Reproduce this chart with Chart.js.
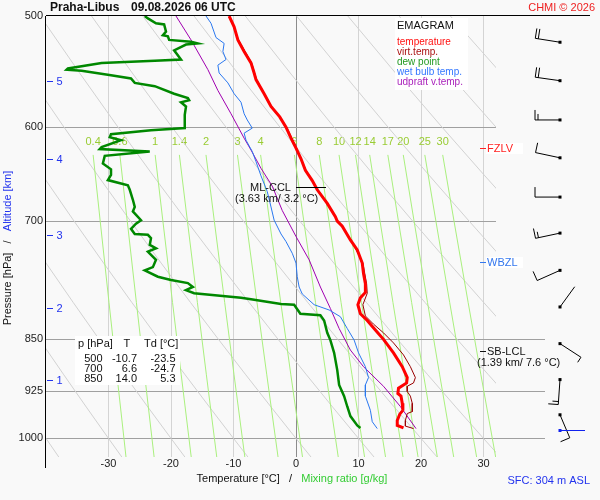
<!DOCTYPE html>
<html>
<head>
<meta charset="utf-8">
<title>Emagram Praha-Libus</title>
<script src="https://cdn.jsdelivr.net/npm/chart.js@4.4.1/dist/chart.umd.min.js"></script>
<style>
  html, body { margin: 0; padding: 0; background: #f9f9f9; }
  #wrap { width: 600px; height: 500px; }
</style>
</head>
<body>
<div id="wrap"><canvas id="emagram" width="600" height="500"></canvas></div>
<script>
// sounding values (p in hPa, T in °C)
const tempP = [500,509,520,530,540,549,555,568,580,590,600,611,621,632,644,655,665,680,695,700,706,722,734,750,763,776,787,794,803,815,824,837,850,869,889,905,913,921,929,933,944,955,961,971,979,983];
const tempT = [-10.7,-9.9,-9.3,-8.3,-7.2,-6.7,-6.4,-5.1,-4.0,-2.6,-1.6,-0.8,0.0,0.8,1.5,2.6,3.4,5.0,6.3,6.6,7.4,8.7,9.8,10.6,10.8,11.1,11.1,10.3,9.9,10.3,11.4,12.7,14.0,15.6,17.0,17.8,17.7,16.4,16.3,16.8,17.0,17.1,16.6,16.2,16.2,17.2];

const virtP = [500,520,540,555,580,600,621,644,665,680,700,722,750,776,788,803,818,829,841,855,872,889,905,913,918,926,933,944,957,960,971,980,984];
const virtT = [-10.6,-9.2,-7.1,-6.3,-3.9,-1.5,0.1,1.6,3.5,5.1,6.7,8.8,10.7,11.3,11.4,10.7,11.1,12.4,14.0,15.6,17.2,18.3,19.1,18.8,17.8,17.8,18.3,18.6,18.6,17.8,17.5,17.5,18.8];

const dewP = [500,502,506,507,513,516,517,520,521.5,523,524,529,537,538,540,545,546,547,551,554,558,561,568,572,574,576,580,588,601,603,607,610,613,620,622,624.5,629,637,643,649,654.5,660,665,676,684,689,699,703,709,715,716,720,728,732,736,746,755,759,767,771,775,780,784,788,794,796,802,803,815,817,824,841,851,869,894,916,933,949,964,979,983];
const dewT = [-24.2,-23.7,-22.4,-21.1,-20.8,-21.3,-20.5,-20.3,-16.8,-15.7,-17.6,-19.5,-18.4,-22.6,-31.1,-36.5,-36.7,-34.3,-29.6,-26.4,-25.8,-22.6,-19.5,-17.3,-17.1,-18.4,-17.6,-17.8,-17.8,-23.2,-29.6,-29.8,-28.0,-31.1,-31.4,-23.4,-30.6,-30.9,-29.6,-29.6,-30.1,-26.9,-26.6,-26.1,-25.8,-26.1,-24.8,-25.6,-26.4,-25.8,-23.7,-23.2,-23.4,-22.4,-23.7,-22.4,-22.9,-24.2,-22.1,-20.0,-17.3,-16.5,-17.6,-16.3,-8.8,-7.2,-2.4,-0.3,0.7,3.9,4.5,5.0,5.5,6.1,6.6,6.9,7.7,8.2,8.7,9.8,10.3];

const wetP = [500,506,518,523,530,537,542,549,558,568,576,587,593,601,606,613,624.5,635,650,667,684,699,715,724,738,750,767,780,789,803,810,819,835,851,869,889,905,916,933,955,973,984];
const wetT = [-14.4,-13.6,-12.8,-11.5,-11.7,-11.2,-12.5,-12.3,-10.9,-9.9,-8.8,-8.3,-7.8,-7.0,-8.3,-8.0,-7.0,-6.4,-5.6,-4.6,-4.0,-3.5,-2.4,-1.6,-0.6,0.0,0.2,0.5,1.0,2.9,5.3,7.1,8.2,9.3,10.0,11.1,11.6,11.1,11.1,11.9,12.2,13.0];

const parcelP = [500,520,546,565,587,611,623,642,661,688,718,746,780,808,835,865,889,918,949,984];
const parcelT = [-19.2,-16.8,-14.1,-12.5,-10.4,-8.3,-7.2,-5.6,-3.8,-2.2,0.0,2.1,3.9,5.5,6.9,8.7,10.8,14.0,16.7,19.2];

// axes and background grid of the diagram
const tempTicks = [-30,-20,-10,0,10,20,30];
const pressTicks = [500,600,700,850,925,1000];
const thetaLines = [-40,-30,-20,-10,0,10,20,30,40,50,60,70,80,90,100];
const adiabatLevels = [500,550,600,650,700,750,800,850,900,950,1000,1031];
const mixRatios = [0.4,0.6,1,1.4,2,3,4,6,8,10,12,14,17,20,25,30];
const mixLevels = [628,700,800,900,1031];

// altitude marks and wind profile
const altKm = [1,2,3,4,5];
const altP = [909,807,716,632,556];
const windP = [522,556,593,631,673,714,759,806,856,908,962];
const windDir = [279,278,270,282,270,258,246,36,123,184,157];
const windKt = [20,20,15,10,10,15,10,2,5,15,10];
const sfcP = 986;

// text table in lower left
const tableP = ['500','700','850'];
const tableT = ['-10.7','6.6','14.0'];
const tableTd = ['-23.5','-24.7','5.3'];

// diagnosed levels
const fzlvP = 621, wbzlP = 749, sbLclP = 867, mlCclP = 662;

const FONT = '"Liberation Sans", Arial, sans-serif';
Chart.defaults.font.family = FONT;

// dry adiabat temperature for potential temperature theta (°C at 1000 hPa)
function adiabatT(theta, p) {
    return (theta + 273.15) * Math.pow(p / 1000, 0.286) - 273.15;
}
// temperature of saturation mixing ratio w (g/kg) at p
function mixT(w, p) {
    const e = w * p / (622 + w);
    const l = Math.log(e / 6.112);
    return 243.5 * l / (17.67 - l);
}

const pts = (ps, ts) => ps.map((p, i) => ({ x: ts[i], y: p }));

function line(label, data, color, width) {
    return { label, data, borderColor: color, borderWidth: width, pointRadius: 0, showLine: true, fill: false, tension: 0 };
}

const datasets = [
    line('temperature', pts(tempP, tempT), '#ff0000', 3),
    line('virt.temp.', pts(virtP, virtT), '#990000', 1),
    line('dew point', pts(dewP, dewT), '#008800', 2.5),
    line('wet bulb temp.', pts(wetP, wetT), '#2a78f0', 1),
    line('udpraft v.temp.', pts(parcelP, parcelT), '#a000b0', 1),
];
mixRatios.forEach(w => {
    datasets.push(line('w' + w, mixLevels.map(p => ({ x: mixT(w, p), y: p })), '#aaf07e', 1));
});
thetaLines.forEach(th => {
    datasets.push(line('th' + th, adiabatLevels.map(p => ({ x: adiabatT(th, p), y: p })), '#d2d2d2', 1));
});

// wind barb: staff points to where wind comes from
function drawBarb(c, x0, y0, dir, kt) {
    const r = dir * Math.PI / 180;
    const ux = Math.sin(r), uy = -Math.cos(r);
    const tx = x0 + ux * 25, ty = y0 + uy * 25;
    const bx = -uy, by = ux;
    c.beginPath();
    c.moveTo(x0, y0);
    c.lineTo(tx, ty);
    let rest = Math.round(kt / 5) * 5, pos = 0;
    while (rest >= 10) {
        const sx = tx - ux * pos, sy = ty - uy * pos;
        c.moveTo(sx, sy);
        c.lineTo(sx + bx * 10, sy + by * 10);
        rest -= 10; pos += 3;
    }
    if (rest >= 5) {
        const sx = tx - ux * pos, sy = ty - uy * pos;
        c.moveTo(sx, sy);
        c.lineTo(sx + bx * 6, sy + by * 6);
    }
    c.stroke();
    c.fillRect(x0 - 1.5, y0 - 1.5, 3, 3);
}

function multiText(c, parts, x, y) {
    let total = 0;
    parts.forEach(p => total += c.measureText(p[0]).width);
    let cx = x - total / 2;
    c.textAlign = 'left';
    parts.forEach(p => { c.fillStyle = p[1]; c.fillText(p[0], cx, y); cx += c.measureText(p[0]).width; });
}

const decor = {
    id: 'decor',
    beforeDraw(chart) {
        const c = chart.ctx;
        c.save();
        c.fillStyle = '#f9f9f9';
        c.fillRect(0, 0, chart.width, chart.height);
        c.restore();
    },
    beforeDatasetsDraw(chart) {
        const { ctx: c, chartArea: a, scales: { x, y } } = chart;
        c.save();
        c.strokeStyle = '#a0a0a0';
        c.lineWidth = 1;
        pressTicks.forEach(p => {
            if (p === 500) return;
            const py = Math.round(y.getPixelForValue(p)) + 0.5;
            c.beginPath();
            c.moveTo(a.left, py);
            c.lineTo(p >= 850 ? 545 : a.right, py);
            c.stroke();
        });
        // mixing ratio labels above the lines
        c.font = '11px ' + FONT;
        c.fillStyle = '#99cc33';
        c.textAlign = 'center';
        c.textBaseline = 'middle';
        const ly = y.getPixelForValue(615);
        mixRatios.forEach(w => c.fillText(String(w), x.getPixelForValue(mixT(w, mixLevels[0])), ly));
        c.restore();
    },
    afterDatasetsDraw(chart) {
        const { ctx: c, chartArea: a, scales: { x, y } } = chart;
        c.save();
        // frame
        c.strokeStyle = '#000';
        c.lineWidth = 1;
        c.beginPath();
        c.moveTo(a.left, a.top - 0.5); c.lineTo(590, a.top - 0.5);
        c.moveTo(a.left - 0.5, a.top); c.lineTo(a.left - 0.5, 468);
        c.stroke();

        // legend box
        c.fillStyle = '#ffffff';
        c.fillRect(395, 18, 73, 72);
        c.textAlign = 'left';
        c.textBaseline = 'middle';
        c.font = '11px ' + FONT;
        c.fillStyle = '#111';
        c.fillText('EMAGRAM', 397, 26);
        c.font = '10px ' + FONT;
        const leg = [['temperature', '#ff1010'], ['virt.temp.', '#aa1111'], ['dew point', '#229922'], ['wet bulb temp.', '#3377ff'], ['udpraft v.temp.', '#aa22bb']];
        leg.forEach((l, i) => { c.fillStyle = l[1]; c.fillText(l[0], 397, 42.3 + i * 9.9); });

        // table box
        c.fillStyle = '#ffffff';
        c.fillRect(75, 336, 105, 49);
        c.font = '11px ' + FONT;
        c.fillStyle = '#111';
        c.fillText('p [hPa]', 78, 343.5);
        c.fillText('T', 123.5, 343.5);
        c.fillText('Td [°C]', 144, 343.5);
        c.textAlign = 'right';
        tableP.forEach((p, i) => {
            const ry = 359 + i * 10;
            c.fillText(p, 102.5, ry);
            c.fillText(tableT[i], 137, ry);
            c.fillText(tableTd[i], 175.5, ry);
        });

        // level labels at the right edge
        const level = (p, txt, color, box) => {
            const py = Math.round(y.getPixelForValue(p)) + 0.5;
            if (box) { c.fillStyle = '#ffffff'; c.fillRect(486, py - 5.5, 37, 11); }
            c.strokeStyle = color;
            c.beginPath(); c.moveTo(480, py); c.lineTo(486, py); c.stroke();
            c.fillStyle = color;
            c.textAlign = 'left';
            c.fillText(txt, 487, py);
            return py;
        };
        c.font = '11px ' + FONT;
        level(fzlvP, 'FZLV', '#ff2222', true);
        level(wbzlP, 'WBZL', '#3377ee', true);
        const lcl = level(sbLclP, 'SB-LCL', '#111', false);
        c.fillText('(1.39 km/ 7.6 °C)', 477, lcl + 11.5);

        // ML-CCL marker
        const cy = Math.round(y.getPixelForValue(mlCclP)) + 0.5;
        c.strokeStyle = '#000';
        c.beginPath(); c.moveTo(x.getPixelForValue(0), cy); c.lineTo(x.getPixelForValue(4.8), cy); c.stroke();
        c.fillStyle = '#111';
        c.fillText('ML-CCL', 250, cy + 0.5);
        c.fillText('(3.63 km/ 3.2 °C)', 235, cy + 11.5);
        c.restore();
    },
    afterDraw(chart) {
        const { ctx: c, scales: { y } } = chart;
        c.save();
        c.textBaseline = 'middle';
        // title and credits
        c.font = 'bold 12px ' + FONT;
        c.fillStyle = '#111';
        c.textAlign = 'left';
        c.fillText('Praha-Libus', 50, 7.5);
        c.fillText('09.08.2026 06 UTC', 131, 7.5);
        c.font = '11px ' + FONT;
        c.fillStyle = '#ee2222';
        c.textAlign = 'right';
        c.fillText('CHMI © 2026', 595, 7.5);
        c.fillStyle = '#2233ee';
        c.fillText('SFC: 304 m ASL', 590, 481);

        // axis titles
        c.font = '11px ' + FONT;
        multiText(c, [['Temperature [°C]', '#111'], ['   /   ', '#111'], ['Mixing ratio [g/kg]', '#33cc33']], 292, 479);
        c.save();
        c.translate(8, 248);
        c.rotate(-Math.PI / 2);
        multiText(c, [['Pressure [hPa]', '#111'], ['   /   ', '#111'], ['Altitude [km]', '#2233ee']], 0, 0);
        c.restore();

        // altitude marks
        c.strokeStyle = '#2233ee';
        c.fillStyle = '#2233ee';
        c.lineWidth = 1;
        c.textAlign = 'center';
        altKm.forEach((k, i) => {
            const py = Math.round(y.getPixelForValue(altP[i])) + 0.5;
            c.beginPath(); c.moveTo(47, py); c.lineTo(53, py); c.stroke();
            c.fillText(String(k), 59.5, py);
        });

        // wind barbs
        c.strokeStyle = '#000';
        c.fillStyle = '#000';
        windP.forEach((p, i) => drawBarb(c, 560, y.getPixelForValue(p), windDir[i], windKt[i]));
        const sy = Math.round(y.getPixelForValue(sfcP)) + 0.5;
        c.strokeStyle = '#1122ee';
        c.fillStyle = '#1122ee';
        c.beginPath(); c.moveTo(560, sy); c.lineTo(585, sy); c.stroke();
        c.fillRect(558.5, sy - 1.5, 3, 3);
        c.restore();
    }
};

new Chart(document.getElementById('emagram'), {
    type: 'scatter',
    data: { datasets },
    options: {
        responsive: false,
        animation: false,
        events: [],
        layout: { padding: { top: 16, right: 104, left: 0, bottom: 0 } },
        plugins: { legend: { display: false }, tooltip: { enabled: false } },
        scales: {
            x: {
                type: 'linear',
                min: -40,
                max: 32,
                bounds: 'data',
                afterBuildTicks: s => { s.ticks = tempTicks.map(v => ({ value: v })); },
                afterFit: s => { s.height = 43; },
                border: { display: false },
                grid: {
                    drawTicks: false,
                    color: ctx => (ctx.tick && ctx.tick.value === 0 ? '#8c8c8c' : '#d4d4d4'),
                },
                ticks: { padding: 0, autoSkip: false, maxRotation: 0, color: '#222', font: { size: 11 }, callback: v => String(v) },
            },
            y: {
                type: 'logarithmic',
                reverse: true,
                min: 500,
                max: 1031,
                bounds: 'data',
                afterBuildTicks: s => { s.ticks = pressTicks.map(v => ({ value: v })); },
                afterFit: s => { s.width = 46; },
                border: { display: false },
                grid: { display: false, drawTicks: false },
                ticks: { padding: 3, autoSkip: false, color: '#222', font: { size: 11 }, callback: v => String(v) },
            },
        },
    },
    plugins: [decor],
});
</script>
</body>
</html>
